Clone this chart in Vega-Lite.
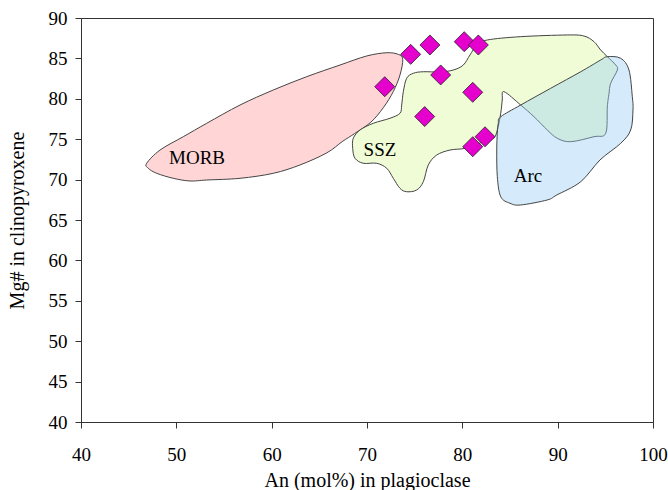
{
  "$schema": "https://vega.github.io/schema/vega-lite/v6.json",
  "width": 572,
  "height": 404,
  "autosize": "none",
  "padding": {"left": 81, "top": 18, "right": 15, "bottom": 68},
  "background": "white",
  "config": {
    "view": {"stroke": "#333", "strokeWidth": 1},
    "axis": {
      "grid": false,
      "domainColor": "#333",
      "tickColor": "#333",
      "tickSize": 6,
      "labelFont": "Liberation Serif",
      "labelFontSize": 19,
      "labelColor": "black",
      "titleFont": "Liberation Serif",
      "titleFontSize": 20,
      "titleFontWeight": "normal",
      "titleColor": "black"
    }
  },
  "datasets": {
    "morb": [
      {"i": 1, "x": 46.89, "y": 72.02},
      {"i": 2, "x": 48.29, "y": 73.66},
      {"i": 3, "x": 50.73, "y": 75.31},
      {"i": 4, "x": 53.19, "y": 76.97},
      {"i": 5, "x": 56.68, "y": 79.23},
      {"i": 6, "x": 60.17, "y": 81.09},
      {"i": 7, "x": 63.68, "y": 82.74},
      {"i": 8, "x": 67.17, "y": 84.18},
      {"i": 9, "x": 69.97, "y": 85.3},
      {"i": 10, "x": 72.07, "y": 85.7},
      {"i": 11, "x": 73.28, "y": 85.5},
      {"i": 12, "x": 73.75, "y": 84.9},
      {"i": 13, "x": 73.46, "y": 82.95},
      {"i": 14, "x": 72.76, "y": 80.9},
      {"i": 15, "x": 71.71, "y": 78.9},
      {"i": 16, "x": 70.4, "y": 77.1},
      {"i": 17, "x": 68.7, "y": 75.7},
      {"i": 18, "x": 67.4, "y": 74.7},
      {"i": 19, "x": 65.77, "y": 73.3},
      {"i": 20, "x": 62.97, "y": 71.81},
      {"i": 21, "x": 60.17, "y": 70.78},
      {"i": 22, "x": 56.68, "y": 70.16},
      {"i": 23, "x": 53.19, "y": 69.95},
      {"i": 24, "x": 51.43, "y": 69.83},
      {"i": 25, "x": 49.68, "y": 70.16},
      {"i": 26, "x": 47.94, "y": 70.78},
      {"i": 27, "x": 47.06, "y": 71.4}
    ],
    "ssz": [
      {"i": 1, "x": 68.56, "y": 75.11},
      {"i": 2, "x": 69.27, "y": 76.14},
      {"i": 3, "x": 70.66, "y": 76.97},
      {"i": 4, "x": 72.41, "y": 77.59},
      {"i": 5, "x": 73.46, "y": 78.21},
      {"i": 6, "x": 73.64, "y": 79.23},
      {"i": 7, "x": 73.81, "y": 80.88},
      {"i": 8, "x": 74.16, "y": 82.54},
      {"i": 9, "x": 74.86, "y": 83.16},
      {"i": 10, "x": 75.91, "y": 83.35},
      {"i": 11, "x": 77.66, "y": 83.32},
      {"i": 12, "x": 79.05, "y": 83.56},
      {"i": 13, "x": 80.1, "y": 84.18},
      {"i": 14, "x": 80.8, "y": 85.42},
      {"i": 15, "x": 81.54, "y": 86.66},
      {"i": 16, "x": 82.62, "y": 87.28},
      {"i": 17, "x": 86.12, "y": 87.69},
      {"i": 18, "x": 91.01, "y": 87.9},
      {"i": 19, "x": 92.76, "y": 87.77},
      {"i": 20, "x": 93.81, "y": 87.07},
      {"i": 21, "x": 94.51, "y": 86.04},
      {"i": 22, "x": 95.21, "y": 85.21},
      {"i": 23, "x": 96.09, "y": 84.18},
      {"i": 24, "x": 96.26, "y": 83.56},
      {"i": 25, "x": 95.56, "y": 81.92},
      {"i": 26, "x": 95.39, "y": 80.68},
      {"i": 27, "x": 95.21, "y": 79.02},
      {"i": 28, "x": 95.04, "y": 75.73},
      {"i": 29, "x": 93.81, "y": 75.31},
      {"i": 30, "x": 91.37, "y": 74.69},
      {"i": 31, "x": 89.96, "y": 75.11},
      {"i": 32, "x": 88.91, "y": 76.14},
      {"i": 33, "x": 87.52, "y": 77.78},
      {"i": 34, "x": 86.12, "y": 79.23},
      {"i": 35, "x": 84.37, "y": 80.88},
      {"i": 36, "x": 84.19, "y": 79.85},
      {"i": 37, "x": 84.03, "y": 78.21},
      {"i": 38, "x": 83.67, "y": 76.14},
      {"i": 39, "x": 83.25, "y": 75.11},
      {"i": 40, "x": 81.85, "y": 74.53},
      {"i": 41, "x": 80.28, "y": 73.87},
      {"i": 42, "x": 78.71, "y": 73.66},
      {"i": 43, "x": 77.31, "y": 73.04},
      {"i": 44, "x": 76.43, "y": 71.81},
      {"i": 45, "x": 75.91, "y": 69.74},
      {"i": 46, "x": 75.21, "y": 68.71},
      {"i": 47, "x": 74.16, "y": 68.5},
      {"i": 48, "x": 73.46, "y": 68.92},
      {"i": 49, "x": 72.76, "y": 70.16},
      {"i": 50, "x": 72.07, "y": 71.4},
      {"i": 51, "x": 71.02, "y": 72.02},
      {"i": 52, "x": 69.61, "y": 72.02},
      {"i": 53, "x": 68.74, "y": 72.64},
      {"i": 54, "x": 68.5, "y": 73.87}
    ],
    "arc": [
      {"i": 1, "x": 84.03, "y": 77.78},
      {"i": 2, "x": 86.12, "y": 79.23},
      {"i": 3, "x": 89.27, "y": 81.3},
      {"i": 4, "x": 92.42, "y": 83.35},
      {"i": 5, "x": 94.51, "y": 84.8},
      {"i": 6, "x": 95.21, "y": 85.21},
      {"i": 7, "x": 96.61, "y": 85.01},
      {"i": 8, "x": 97.48, "y": 83.56},
      {"i": 9, "x": 97.83, "y": 80.26},
      {"i": 10, "x": 97.9, "y": 78.61},
      {"i": 11, "x": 97.66, "y": 76.14},
      {"i": 12, "x": 96.61, "y": 74.49},
      {"i": 13, "x": 94.44, "y": 72.43},
      {"i": 14, "x": 92.42, "y": 69.74},
      {"i": 15, "x": 89.9, "y": 68.09},
      {"i": 16, "x": 88.91, "y": 67.48},
      {"i": 17, "x": 86.12, "y": 66.86},
      {"i": 18, "x": 85.0, "y": 67.07},
      {"i": 19, "x": 84.03, "y": 67.88},
      {"i": 20, "x": 83.67, "y": 70.36},
      {"i": 21, "x": 83.61, "y": 73.66},
      {"i": 22, "x": 83.67, "y": 75.73},
      {"i": 23, "x": 83.77, "y": 76.97}
    ],
    "pts": [
      {"x": 74.58, "y": 85.5},
      {"x": 76.6, "y": 86.66},
      {"x": 80.2, "y": 87.07},
      {"x": 81.68, "y": 86.66},
      {"x": 71.86, "y": 81.5},
      {"x": 77.73, "y": 82.95},
      {"x": 81.09, "y": 80.8},
      {"x": 76.05, "y": 77.8},
      {"x": 82.38, "y": 75.3},
      {"x": 81.09, "y": 74.07}
    ],
    "labels": [
      {"label": "MORB", "x": 52.17, "y": 72.67},
      {"label": "SSZ", "x": 71.36, "y": 73.66},
      {"label": "Arc", "x": 86.89, "y": 70.44}
    ]
  },
  "encoding": {
    "x": {
      "field": "x",
      "type": "quantitative",
      "scale": {"domain": [40, 100], "nice": false, "zero": false},
      "axis": {"title": "An (mol%) in plagioclase", "values": [40, 50, 60, 70, 80, 90, 100], "labelPadding": 17, "titlePadding": 6, "labelFlush": false}
    },
    "y": {
      "field": "y",
      "type": "quantitative",
      "scale": {"domain": [40, 90], "nice": false, "zero": false},
      "axis": {"title": "Mg# in clinopyroxene", "values": [40, 45, 50, 55, 60, 65, 70, 75, 80, 85, 90], "labelPadding": 8, "titlePadding": 21, "labelFlush": false}
    }
  },
  "layer": [
    {
      "data": {"name": "morb"},
      "mark": {"type": "line", "interpolate": "cardinal-closed", "fill": "#FFD5D5", "stroke": "#444", "strokeWidth": 1},
      "encoding": {"order": {"field": "i", "type": "quantitative"}}
    },
    {
      "data": {"name": "ssz"},
      "mark": {"type": "line", "interpolate": "cardinal-closed", "fill": "#F0FCD5", "stroke": "#444", "strokeWidth": 1},
      "encoding": {"order": {"field": "i", "type": "quantitative"}}
    },
    {
      "data": {"name": "arc"},
      "mark": {"type": "line", "interpolate": "cardinal-closed", "fill": "#96CDF5", "fillOpacity": 0.4, "stroke": "#444", "strokeWidth": 1},
      "encoding": {"order": {"field": "i", "type": "quantitative"}}
    },
    {
      "data": {"name": "pts"},
      "mark": {"type": "point", "shape": "diamond", "size": 400, "filled": true, "fill": "#E600CE", "fillOpacity": 1, "stroke": "#222", "strokeWidth": 0.8, "opacity": 1}
    },
    {
      "data": {"name": "labels"},
      "mark": {"type": "text", "font": "Liberation Serif", "fontSize": 19, "color": "black", "align": "center", "baseline": "middle"},
      "encoding": {"text": {"field": "label", "type": "nominal"}}
    }
  ]
}
